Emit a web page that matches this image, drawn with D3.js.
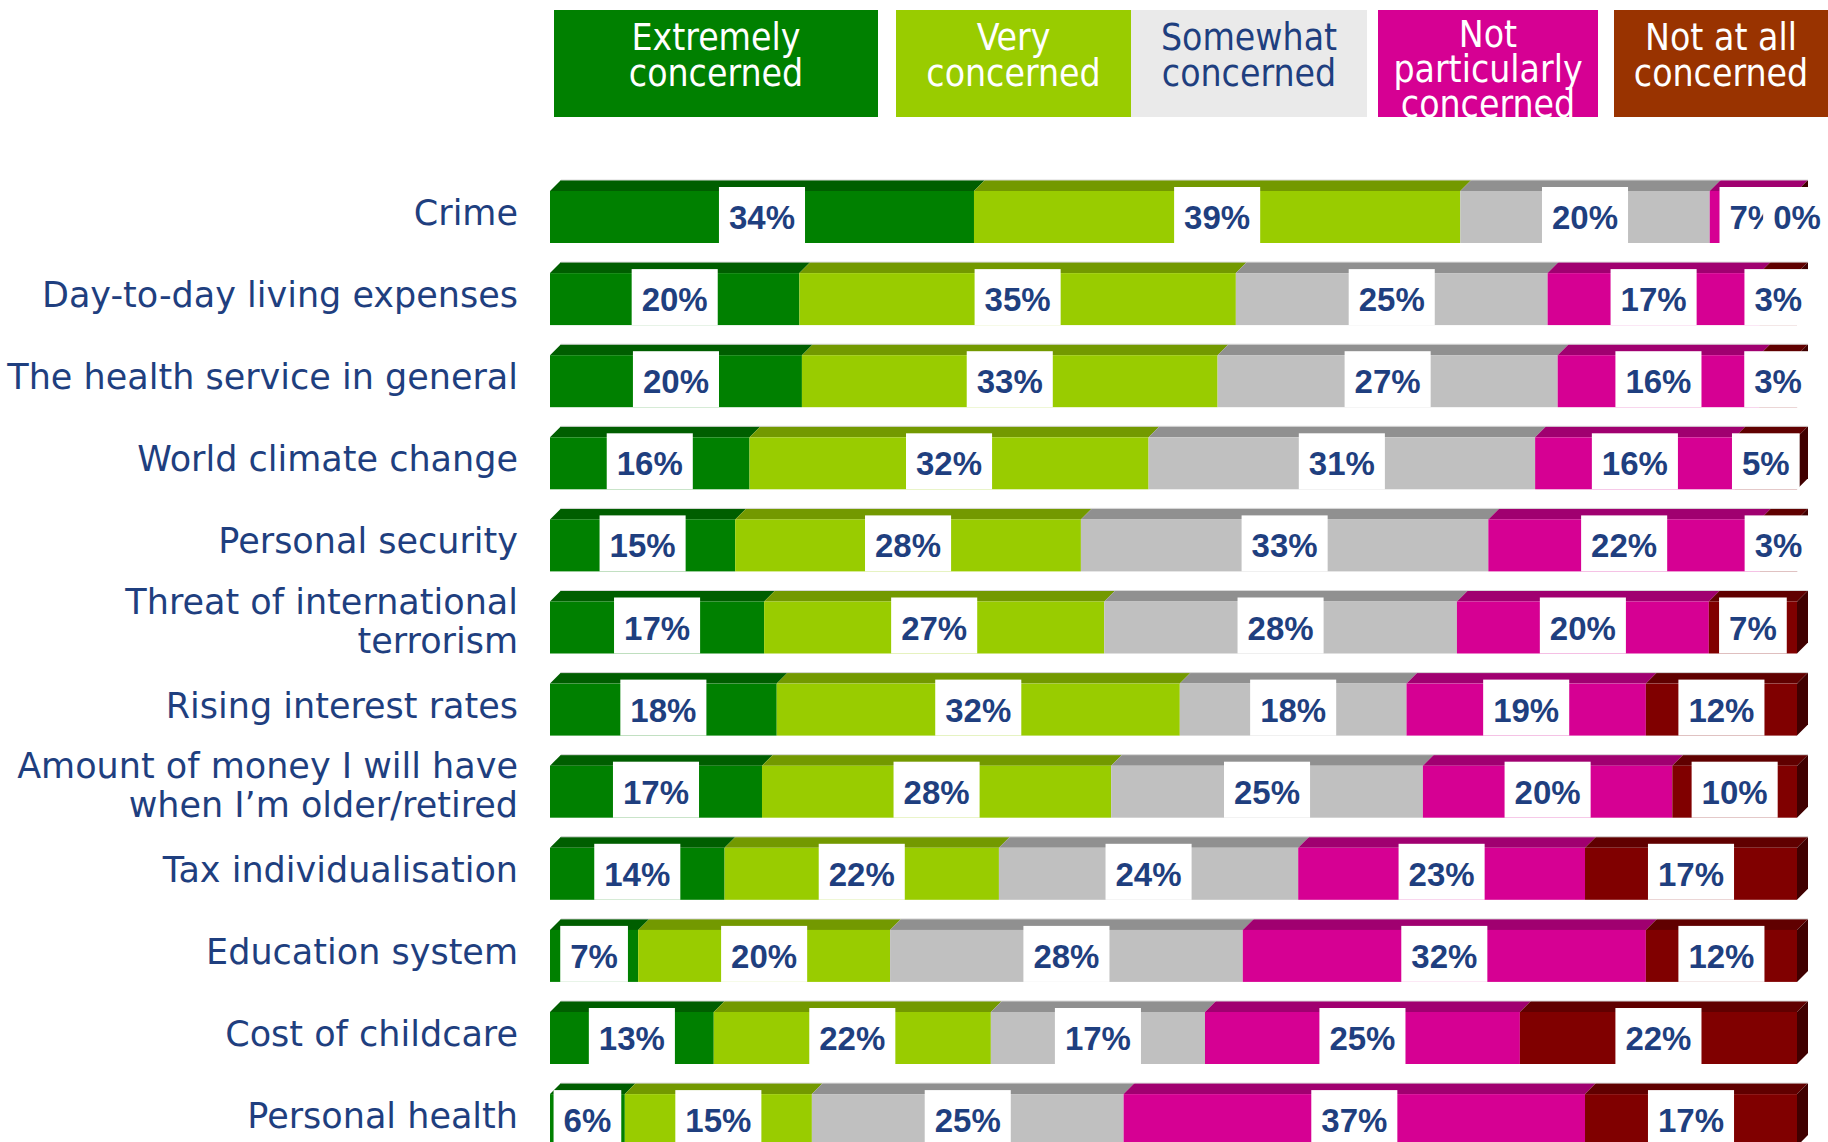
<!DOCTYPE html>
<html>
<head>
<meta charset="utf-8">
<script src="https://cdn.jsdelivr.net/npm/d3@7"></script>
<style>
  html, body { margin: 0; padding: 0; background: #ffffff; }
  svg { display: block; }
</style>
</head>
<body>
<svg id="chart" width="1828" height="1142"></svg>
<script>
// ---------------- DATA ----------------
const categories = [
  "Crime",
  "Day-to-day living expenses",
  "The health service in general",
  "World climate change",
  "Personal security",
  "Threat of international\nterrorism",
  "Rising interest rates",
  "Amount of money I will have\nwhen I’m older/retired",
  "Tax individualisation",
  "Education system",
  "Cost of childcare",
  "Personal health"
];
const seriesKeys = ["extremely", "very", "somewhat", "notParticularly", "notAtAll"];
const legendLabels = [
  "Extremely\nconcerned",
  "Very\nconcerned",
  "Somewhat\nconcerned",
  "Not\nparticularly\nconcerned",
  "Not at all\nconcerned"
];
const extremely       = [34, 20, 20, 16, 15, 17, 18, 17, 14,  7, 13,  6];
const very            = [39, 35, 33, 32, 28, 27, 32, 28, 22, 20, 22, 15];
const somewhat        = [20, 25, 27, 31, 33, 28, 18, 25, 24, 28, 17, 25];
const notParticularly = [ 7, 17, 16, 16, 22, 20, 19, 20, 23, 32, 25, 37];
const notAtAll        = [ 0,  3,  3,  5,  3,  7, 12, 10, 17, 12, 22, 17];

// ---------------- STYLE / LAYOUT ----------------
const frontColors  = ["#008000", "#99CC00", "#C0C0C0", "#D60093", "#800000"];
const topColors    = ["#005E00", "#739900", "#909090", "#A00070", "#600000"];
const sideColors   = ["#004000", "#5A7800", "#707070", "#7A0055", "#400000"];
const legendFill   = ["#008000", "#99CC00", "#EAEAEA", "#D60093", "#993300"];
const legendText   = ["#FFFFFF", "#FFFFFF", "#1F3F7F", "#FFFFFF", "#FFFFFF"];
const legendBoxes  = [[554, 878], [896, 1131], [1131, 1367], [1378, 1598], [1614, 1828]];
const navy = "#1F3F7F";
const depth = 11;

const table = categories.map((c, i) => ({
  category: c,
  extremely: extremely[i],
  very: very[i],
  somewhat: somewhat[i],
  notParticularly: notParticularly[i],
  notAtAll: notAtAll[i]
}));

const stacked = d3.stack().keys(seriesKeys).offset(d3.stackOffsetExpand)(table);

const svg = d3.select("#chart");

const x = d3.scaleLinear().domain([0, 1]).range([550, 1797]);
const y = d3.scaleBand()
  .domain(categories)
  .range([191, 191 + 11 * 82.1 + 52])
  .paddingInner(30.1 / 82.1)
  .paddingOuter(0);
const h = y.bandwidth();

// ---------------- LEGEND ----------------
const defs = svg.append("defs");
const legend = svg.append("g").attr("class", "legend");
legendBoxes.forEach((b, i) => {
  const id = "lclip" + i;
  defs.append("clipPath").attr("id", id)
    .append("rect").attr("x", b[0]).attr("y", 10).attr("width", b[1] - b[0]).attr("height", 107);
  const g = legend.append("g").attr("clip-path", `url(#${id})`);
  g.append("rect")
    .attr("x", b[0]).attr("y", 10)
    .attr("width", b[1] - b[0]).attr("height", 107)
    .attr("fill", legendFill[i]);
  const lines = legendLabels[i].split("\n");
  const t = g.append("text")
    .attr("x", (b[0] + b[1]) / 2)
    .attr("text-anchor", "middle")
    .attr("font-family", "'DejaVu Sans Condensed', 'DejaVu Sans', Verdana, sans-serif")
    .attr("font-stretch", "condensed")
    .attr("font-size", 37)
    .attr("fill", legendText[i]);
  lines.forEach((ln, k) => {
    t.append("tspan")
      .attr("x", (b[0] + b[1]) / 2)
      .attr("y", (lines.length === 3 ? 47 : 50) + k * (lines.length === 3 ? 35 : 36))
      .text(ln);
  });
});

// ---------------- BARS ----------------
const bars = svg.append("g").attr("class", "bars");
categories.forEach((cat, ri) => {
  const y0 = y(cat);
  const g = bars.append("g");
  stacked.forEach((series, si) => {
    const seg = series[ri];
    const xa = x(seg[0]), xb = x(seg[1]);
    // top face
    g.append("path")
      .attr("d", `M${xa},${y0} L${xa + depth},${y0 - depth} L${xb + depth},${y0 - depth} L${xb},${y0} Z`)
      .attr("fill", topColors[si]);
    // front face
    g.append("rect")
      .attr("x", xa).attr("y", y0)
      .attr("width", Math.max(0, xb - xa)).attr("height", h)
      .attr("fill", frontColors[si]);
    // right side face for last segment
    if (si === stacked.length - 1) {
      g.append("path")
        .attr("d", `M${xb},${y0} L${xb + depth},${y0 - depth} L${xb + depth},${y0 + h - depth} L${xb},${y0 + h} Z`)
        .attr("fill", sideColors[si]);
    }
  });
  // faint highlight on top edge
  g.append("line")
    .attr("x1", x(0) + depth).attr("x2", x(1) + depth)
    .attr("y1", y0 - depth).attr("y2", y0 - depth)
    .attr("stroke", "#d8d8d8").attr("stroke-width", 1);
});

// ---------------- VALUE LABELS ----------------
const labels = svg.append("g").attr("class", "labels");
categories.forEach((cat, ri) => {
  const y0 = y(cat);
  stacked.forEach((series, si) => {
    const seg = series[ri];
    const cx = (x(seg[0]) + x(seg[1])) / 2;
    const value = table[ri][seriesKeys[si]];
    const g = labels.append("g");
    const rect = g.append("rect").attr("fill", "#ffffff");
    const t = g.append("text")
      .attr("x", cx)
      .attr("y", y0 + h / 2 + 12)
      .attr("text-anchor", "middle")
      .attr("font-family", "'Liberation Sans', Arial, sans-serif")
      .attr("font-weight", "bold")
      .attr("font-size", 33)
      .attr("fill", navy)
      .text(value + "%");
    const w = t.node().getComputedTextLength() + 20;
    rect.attr("x", cx - w / 2).attr("y", y0 - 4).attr("width", w).attr("height", h + 4);
  });
});

// ---------------- CATEGORY LABELS ----------------
const cats = svg.append("g").attr("class", "categories");
categories.forEach(cat => {
  const lines = cat.split("\n");
  const c = y(cat) + h / 2;
  const t = cats.append("text")
    .attr("text-anchor", "end")
    .attr("font-family", "'DejaVu Sans', Verdana, sans-serif")
    .attr("font-size", 35)
    .attr("fill", navy);
  lines.forEach((ln, k) => {
    t.append("tspan")
      .attr("x", 518)
      .attr("y", c + 8 + (k - (lines.length - 1) / 2) * 39 - (lines.length > 1 ? 2 : 0))
      .text(ln);
  });
});
</script>
</body>
</html>
